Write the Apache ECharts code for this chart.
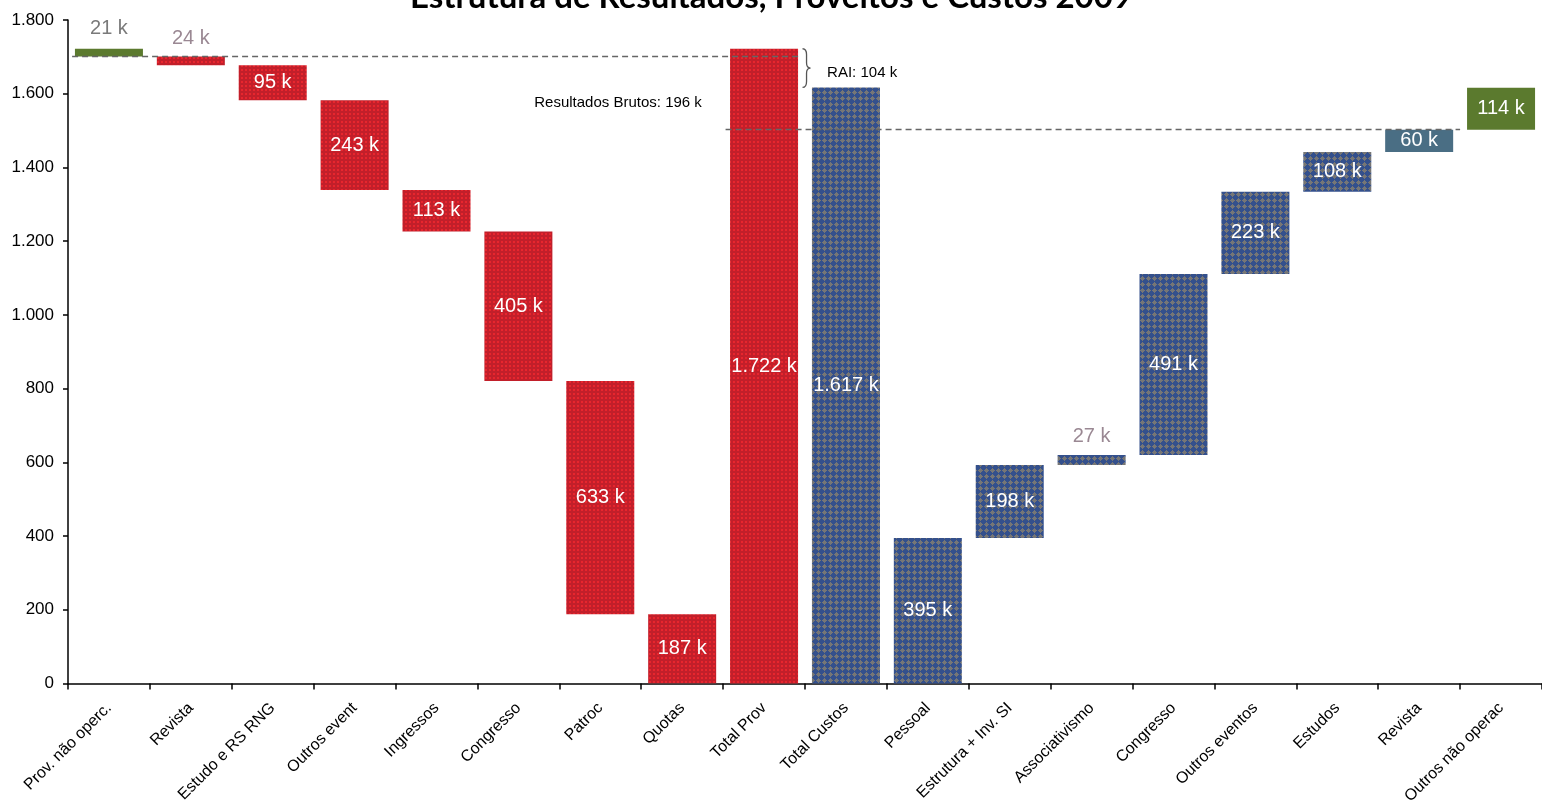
<!DOCTYPE html>
<html>
<head>
<meta charset="utf-8">
<script src="https://cdn.jsdelivr.net/npm/echarts@6/dist/echarts.min.js"></script>
<style>
html,body{margin:0;padding:0;background:#fff;}
#chart{width:1542px;height:807px;}
</style>
</head>
<body>
<div id="chart"></div>
<script>
// ---- data (values in thousands of euros) ----
const categories = ['Prov. não operc.','Revista','Estudo e RS RNG','Outros event','Ingressos','Congresso','Patroc','Quotas','Total Prov','Total Custos','Pessoal','Estrutura + Inv. SI','Associativismo','Congresso','Outros eventos','Estudos','Revista','Outros não operac'];
const values = [21, 24, 95, 243, 113, 405, 633, 187, 1722, 1617, 395, 198, 27, 491, 223, 108, 60, 114];
// 'rev' = revenue step (falls from total), 'total' = total bar, 'cost' = cost step (rises from 0)
const kinds = ['rev','rev','rev','rev','rev','rev','rev','rev','total','total','cost','cost','cost','cost','cost','cost','cost','cost'];
const yTicks = [0, 200, 400, 600, 800, 1000, 1200, 1400, 1600, 1800];
const annotations = [
  {text: 'Resultados Brutos: 196 k'},
  {text: 'RAI: 104 k'}
];

// ---- waterfall bases derived from the values ----
const totalProv = values[8], totalCustos = values[9];
const bases = [];
let run = totalProv, cum = 0;
for (let i = 0; i < values.length; i++) {
  if (kinds[i] === 'rev') { run -= values[i]; bases.push(Math.max(run, 0)); }
  else if (kinds[i] === 'total') bases.push(0);
  else { bases.push(cum); cum += values[i]; }
}
const opProveitos = totalProv - values[0];          // line: operating revenue
const opCustos = totalCustos - values[values.length-1]; // line: operating costs

// ---- patterns ----
function makePattern(size, bg, fg, pts) {
  const c = document.createElement('canvas');
  c.width = size; c.height = size;
  const g = c.getContext('2d');
  g.fillStyle = bg; g.fillRect(0,0,size,size);
  g.fillStyle = fg;
  pts.forEach(p => g.fillRect(p[0], p[1], p[2]||1, p[3]||1));
  return {image: c, repeat: 'repeat'};
}
const redPat = makePattern(4, '#C21F2A', '#E8262E', [[1,1,2,2]]);
const bluePat = makePattern(6, '#34508C', '#767676', [[2,0,1,1],[1,1,3,1],[0,2,5,1],[1,3,3,1],[2,4,1,1]]);
const green = '#5B7A2E', steel = '#4A6E84';

function barColor(i) {
  if (i === 0 || i === values.length-1) return green;
  if (i === values.length-2) return steel;
  if (i <= 8) return redPat;
  return bluePat;
}
function fmtNum(v) { return String(v).replace(/\B(?=(\d{3})+(?!\d))/g, '.'); }

const smallOutside = {0: '#7A7A7A', 1: '#9A8893', 12: '#9A8893'};

const barData = values.map((v, i) => {
  const outside = smallOutside[i] !== undefined;
  return {
    value: v,
    itemStyle: {color: barColor(i)},
    label: outside ? {position: 'top', distance: i === 0 ? 10 : 8, color: smallOutside[i]} : {position: 'inside', color: '#fff'}
  };
});

const chart = echarts.init(document.getElementById('chart'), null, {renderer: 'canvas'});
chart.setOption({
  animation: false,
  title: {
    text: 'Estrutura de Resultados, Proveitos e Custos 2009',
    left: 'center', top: -24, padding: [5, 5, 5, 27],
    textStyle: {fontFamily: 'Lato', fontWeight: 'bold', fontSize: 33, color: '#000'}
  },
  grid: {left: 68, top: 20, width: 1476, height: 667, containLabel: false},
  xAxis: [{
    type: 'category', data: categories,
    axisLine: {lineStyle: {color: '#000', width: 1.5}},
    axisTick: {show: true, length: 6, lineStyle: {color: '#000', width: 1.5}},
    axisLabel: {interval: 0, rotate: 45, margin: 22, fontFamily: 'Liberation Sans', fontSize: 16, color: '#000'}
  }, {
    type: 'value', min: 0, max: categories.length, show: false
  }],
  yAxis: [{
    type: 'value', min: yTicks[0], max: yTicks[yTicks.length-1], interval: yTicks[1]-yTicks[0],
    axisLine: {show: true, lineStyle: {color: '#000', width: 1.5}},
    axisTick: {show: true, length: 5, lineStyle: {color: '#000', width: 1.5}},
    splitLine: {show: false},
    axisLabel: {fontFamily: 'Liberation Sans', fontSize: 17, color: '#000', margin: 14, formatter: v => fmtNum(v)}
  }],
  series: [{
    type: 'bar', stack: 'w', data: bases, barWidth: 68,
    itemStyle: {color: 'transparent'}, silent: true
  }, {
    type: 'bar', stack: 'w', data: barData, barWidth: 68,
    label: {show: true, fontFamily: 'Liberation Sans', fontSize: 20, formatter: p => fmtNum(p.value) + ' k'}
  }, {
    type: 'line', xAxisIndex: 1, symbol: 'none', silent: true,
    lineStyle: {color: '#666', width: 1.3, type: [6, 4]},
    data: [[0.05, opProveitos], [8.92, opProveitos]], z: 5
  }, {
    type: 'line', xAxisIndex: 1, symbol: 'none', silent: true,
    lineStyle: {color: '#666', width: 1.3, type: [6, 4]},
    data: [[8.03, opCustos], [17, opCustos]], z: 5
  }, {
    type: 'custom', xAxisIndex: 1, silent: true, z: 6,
    data: [[8.97, totalCustos, totalProv]],
    renderItem: function (params, api) {
      const x = api.coord([api.value(0), api.value(1)])[0];
      const yb = api.coord([0, api.value(1)])[1];
      const yt = api.coord([0, api.value(2)])[1];
      const ym = (yb + yt) / 2, w = 8;
      const d = 'M' + x + ' ' + yt + ' Q' + (x + w/2) + ' ' + yt + ' ' + (x + w/2) + ' ' + (yt + 6) +
        ' L' + (x + w/2) + ' ' + (ym - 5) + ' Q' + (x + w/2) + ' ' + ym + ' ' + (x + w) + ' ' + ym +
        ' Q' + (x + w/2) + ' ' + ym + ' ' + (x + w/2) + ' ' + (ym + 5) +
        ' L' + (x + w/2) + ' ' + (yb - 6) + ' Q' + (x + w/2) + ' ' + yb + ' ' + x + ' ' + yb;
      return {type: 'path', shape: {pathData: d}, style: {fill: 'none', stroke: '#555', lineWidth: 1.3}};
    }
  }, {
    type: 'custom', xAxisIndex: 1, silent: true, z: 6,
    data: [[7.74, 1576, 0], [9.27, 1657, 1]],
    renderItem: function (params, api) {
      const p = api.coord([api.value(0), api.value(1)]);
      const idx = api.value(2);
      return {type: 'text', x: p[0], y: p[1], style: {
        text: annotations[idx].text, fontFamily: 'Liberation Sans', fontSize: 15, fill: '#000',
        align: idx === 0 ? 'right' : 'left', verticalAlign: 'middle'}};
    }
  }]
});
</script>
</body>
</html>
